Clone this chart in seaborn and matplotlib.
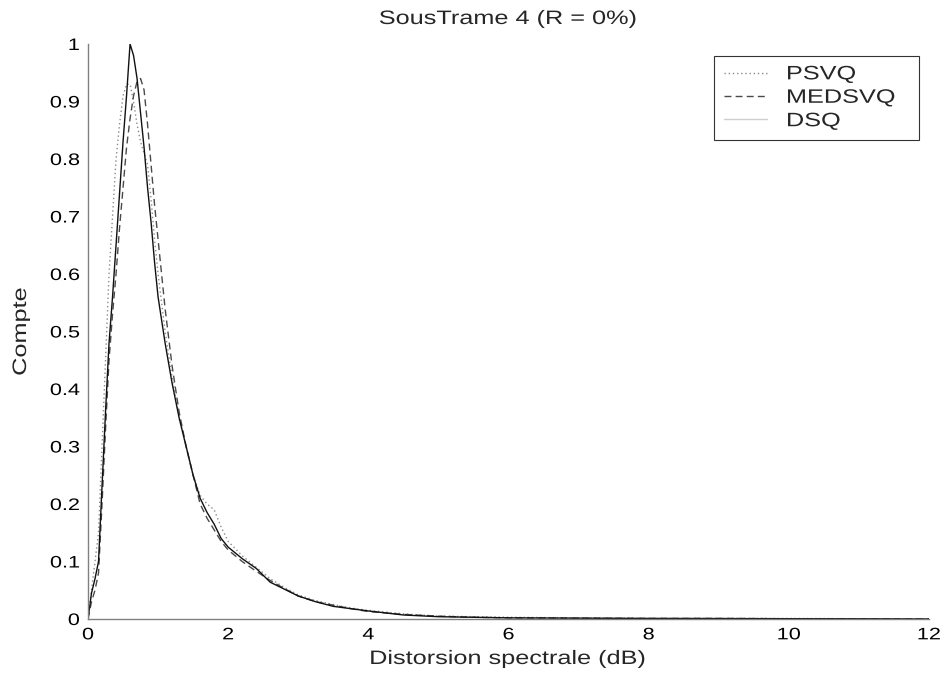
import matplotlib
matplotlib.use("Agg")
import matplotlib.pyplot as plt
import seaborn as sns
import pandas as pd
from matplotlib.patheffects import AbstractPathEffect
from matplotlib.transforms import Affine2D

# Spectral distortion bins (dB)
distortion_db = [0.0, 0.05, 0.1, 0.15, 0.2, 0.25, 0.3, 0.35, 0.4, 0.45, 0.5, 0.55,
                 0.6, 0.65, 0.7, 0.75, 0.8, 0.85, 0.9, 0.95, 1.0, 1.1, 1.2, 1.3,
                 1.4, 1.5, 1.6, 1.7, 1.8, 1.9, 2.0, 2.2, 2.4, 2.6, 2.8, 3.0, 3.25,
                 3.5, 3.75, 4.0, 4.5, 5.0, 5.5, 6.0, 7.0, 8.0, 9.0, 10.0, 11.0, 12.0]

# Normalised counts per quantiser
psvq = [0.0, 0.05, 0.1, 0.15, 0.3, 0.45, 0.6, 0.7, 0.8, 0.86, 0.91, 0.93,
        0.93, 0.9, 0.86, 0.83, 0.81, 0.79, 0.73, 0.66, 0.6, 0.5, 0.42, 0.35,
        0.3, 0.25, 0.215, 0.2, 0.19, 0.16, 0.135, 0.11, 0.09, 0.07, 0.055, 0.042, 0.032,
        0.025, 0.019, 0.015, 0.009, 0.005, 0.004, 0.003, 0.002, 0.001, 0.001, 0.001, 0.0005, 0.0]

medsvq = [0.0, 0.03, 0.05, 0.08, 0.2, 0.33, 0.45, 0.53, 0.6, 0.68, 0.75, 0.82,
          0.87, 0.91, 0.935, 0.94, 0.92, 0.86, 0.79, 0.72, 0.66, 0.54, 0.44, 0.36,
          0.3, 0.25, 0.2, 0.175, 0.155, 0.135, 0.12, 0.1, 0.083, 0.067, 0.053, 0.04, 0.03,
          0.024, 0.018, 0.013, 0.008, 0.005, 0.003, 0.002, 0.0015, 0.001, 0.001, 0.0005, 0.0003, 0.0]

dsq = [0.0, 0.045, 0.07, 0.1, 0.23, 0.36, 0.48, 0.56, 0.65, 0.74, 0.83, 0.91,
       1.0, 0.98, 0.94, 0.88, 0.82, 0.75, 0.69, 0.62, 0.56, 0.48, 0.41, 0.35,
       0.3, 0.25, 0.21, 0.185, 0.165, 0.14, 0.125, 0.105, 0.088, 0.064, 0.052, 0.04, 0.03,
       0.022, 0.018, 0.014, 0.007, 0.004, 0.003, 0.002, 0.0015, 0.001, 0.0008, 0.0005, 0.0003, 0.0]

series_names = ["PSVQ", "MEDSVQ", "DSQ"]
series_values = [psvq, medsvq, dsq]
x_ticks = [0, 2, 4, 6, 8, 10, 12]
y_ticks = [0, 0.1, 0.2, 0.3, 0.4, 0.5, 0.6, 0.7, 0.8, 0.9, 1.0]
y_tick_labels = ["0", "0.1", "0.2", "0.3", "0.4", "0.5", "0.6", "0.7", "0.8", "0.9", "1"]


class Widen(AbstractPathEffect):
    """Stretch glyphs along the text direction, keeping the chosen anchor fixed."""

    def __init__(self, sx=1.3, anchor="center"):
        super().__init__()
        self.sx = sx
        self.anchor = anchor

    def draw_path(self, renderer, gc, tpath, affine, rgbFace=None):
        ext = tpath.get_extents()
        if self.anchor == "center":
            cx = 0.5 * (ext.x0 + ext.x1)
        elif self.anchor == "right":
            cx = ext.x1
        else:
            cx = 0.0
        stretch = Affine2D().translate(-cx, 0).scale(self.sx, 1.0).translate(cx, 0)
        renderer.draw_path(gc, tpath, stretch + affine, rgbFace)


SX = 1.3

sns.set_style("white")
plt.rcParams["font.family"] = ["Liberation Sans", "DejaVu Sans"]

frames = []
for name, vals in zip(series_names, series_values):
    frames.append(pd.DataFrame({"x": distortion_db, "y": vals, "q": name}))
df = pd.concat(frames, ignore_index=True)

fig = plt.figure(figsize=(9.48, 6.82), dpi=100)
ax = fig.add_axes([88 / 948, 1 - 619 / 682, (929 - 88) / 948, (619 - 44) / 682])

styles = {
    "PSVQ": dict(color="#8a8a8a", linestyle=(0, (1, 2)), linewidth=1.0),
    "MEDSVQ": dict(color="#4a4a4a", linestyle=(0, (5, 3)), linewidth=1.0),
    "DSQ": dict(color="#111111", linestyle="-", linewidth=1.0),
}
for name in series_names:
    sub = df[df["q"] == name]
    sns.lineplot(data=sub, x="x", y="y", ax=ax, label=name, **styles[name])

ax.set_xlim(0, 12)
ax.set_ylim(0, 1)
ax.set_xticks(x_ticks)
ax.set_xticklabels([str(t) for t in x_ticks])
ax.set_yticks(y_ticks)
ax.set_yticklabels(y_tick_labels)
ax.tick_params(direction="in", length=6, width=1, color="#808080",
               labelsize=12, labelcolor="black", pad=6)
for lbl in ax.get_xticklabels():
    lbl.set_path_effects([Widen(SX, "center")])
for lbl in ax.get_yticklabels():
    lbl.set_path_effects([Widen(SX, "right")])

for side in ["top", "right"]:
    ax.spines[side].set_visible(False)
for side in ["left", "bottom"]:
    ax.spines[side].set_color("#808080")
    ax.spines[side].set_linewidth(1.0)

title = ax.set_title("SousTrame 4 (R = 0%)", fontsize=14, y=(619 - 24) / 575, pad=0)
title.set_path_effects([Widen(SX, "center")])
ax.set_xlabel("Distorsion spectrale (dB)", fontsize=14)
ax.xaxis.set_label_coords(0.5, (619 - 651) / 575)
ax.xaxis.label.set_path_effects([Widen(SX, "center")])
ax.set_ylabel("Compte", fontsize=14)
ax.yaxis.set_label_coords((30 - 88) / 841, 0.5)
ax.yaxis.label.set_path_effects([Widen(SX, "center")])

leg = ax.legend(loc="upper left",
                bbox_to_anchor=(714 / 948, 1 - 144 / 682, 205 / 948, 88 / 682),
                bbox_transform=fig.transFigure, mode="expand", borderaxespad=0,
                fontsize=14, frameon=True, fancybox=False, framealpha=1,
                edgecolor="#333333", handlelength=2.2, handletextpad=1.0,
                borderpad=0.5, labelspacing=0.3)
leg.get_frame().set_linewidth(0.8)
for txt in leg.get_texts():
    txt.set_path_effects([Widen(SX, "left")])
leg.legend_handles[2].set_alpha(0.2)

fig.savefig("out.png", dpi=100)
